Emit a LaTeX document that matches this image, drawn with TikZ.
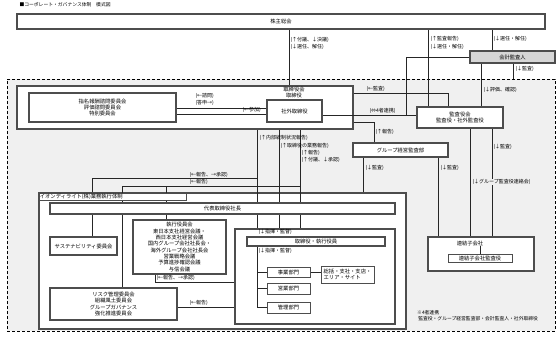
\documentclass[tikz,border=0pt]{standalone}
\usepackage{fontspec}
\setmainfont{Noto Sans CJK JP}
\usetikzlibrary{positioning}
\definecolor{areagray}{HTML}{F0F0F0}
\definecolor{framegray}{HTML}{4D4D4D}
\definecolor{kaikeigray}{HTML}{D6D6D6}
\pgfdeclarelayer{bg}
\pgfdeclarelayer{frames}
\pgfdeclarelayer{links}
\pgfsetlayers{bg,frames,links,main}

\begin{document}
\begin{tikzpicture}[
  x=1pt, y=-1pt,
  font=\fontsize{5.3}{6.3}\selectfont,
  wh/.style 2 args={minimum width=#1pt,minimum height=#2pt},
  box/.style={draw=framegray,line width=1.3pt,fill=white,align=center,inner sep=0.5pt},
  subbox/.style={draw=framegray,line width=0.8pt,fill=white,align=center,inner sep=0.5pt},
  area/.style={draw=black,dash pattern=on 3pt off 2pt,line width=0.9pt,fill=areagray},
  link/.style={line width=0.9pt,draw=black!85},
  lbl/.style={anchor=west,inner sep=0.3pt,font=\fontsize{5}{5.8}\selectfont}
]
\useasboundingbox (0,0) rectangle (560,337);

% title
\node[anchor=west,font=\fontsize{4.8}{5.6}\selectfont] (title) at (16,5) {■コーポレート・ガバナンス体制　模式図};

% shareholders and auditor
\node[box,wh={528}{15}] (soukai) at (281,21.5) {株主総会};
\node[box,fill=kaikeigray,wh={85}{12}] (kaikei) at (512.5,57) {会計監査人};

\begin{pgfonlayer}{bg}
\node[area,wh={548}{252}] (area) at (281,205) {};
\end{pgfonlayer}

\begin{pgfonlayer}{frames}
\node[box,wh={336}{43}] (torikai) at (185,107.5) {};
\node[box,wh={367}{136}] (aeon) at (222.5,261) {};
\node[box,wh={160}{95}] (shiki) at (315,276.5) {};
\node[box,wh={106}{34}] (renketsu) at (481,254) {};
\end{pgfonlayer}

% board
\node[box,wh={147}{29}] (iinkai) at (102.5,107.5) {指名報酬諮問委員会\\評価諮問委員会\\特別委員会};
\node[box,wh={55}{22}] (shagai) at (294.5,111) {社外取締役};
\node[align=center,inner sep=0pt] (toriname) at (294,92.5) {取締役会\\取締役};
\node[box,wh={86}{21}] (kansayaku) at (460,117.5) {監査役会\\監査役・社外監査役};
\node[box,wh={95}{14}] (gkansa) at (400.5,150) {グループ経営監査部};

% subsidiaries
\node[inner sep=0.5pt] (renname) at (470,243) {連結子会社};
\node[subbox,wh={64}{8}] (renkansa) at (480,258) {連結子会社監査役};

% execution
\node[subbox,anchor=north west,text width=146pt,minimum height=7pt,align=left,inner sep=0.5pt] (tab) at (39,193) {イオンディライト(株)業務執行体制};
\node[box,wh={345}{11}] (shacho) at (222.5,208.5) {代表取締役社長};
\node[box,wh={67}{18}] (sustain) at (83.5,246) {サステナビリティ委員会};
\node[box,wh={93}{54}] (shikkou) at (179.5,247) {執行役員会\\東日本支社経営会議・\\西日本支社経営会議\\国内グループ会社社長会・\\海外グループ会社社長会\\営業戦略会議\\予算進捗確認会議\\与信会議};
\node[box,wh={127}{32}] (risk) at (113.5,304) {リスク管理委員会\\組織風土委員会\\グループガバナンス\\強化推進委員会};
\node[box,wh={138}{9}] (torishik) at (316,241.5) {取締役・執行役員};
\node[subbox,wh={43}{10}] (jigyo) at (288.5,272) {事業部門};
\node[subbox,wh={43}{11}] (eigyo) at (288.5,288.5) {営業部門};
\node[subbox,wh={43}{11}] (kanri) at (288.5,307.5) {管理部門};
\node[subbox,wh={53}{17},align=left] (sokatsu) at (347.5,274.5) {総括・支社・支店・\\エリア・サイト};

% note
\node[anchor=north west,align=left,inner sep=0pt,font=\fontsize{4.8}{6}\selectfont] (note) at (417,310) {※4者連携\\\ 監査役・グループ経営監査部・会計監査人・社外取締役};

% line positions
\coordinate (xTori) at (289,0);
\coordinate (xKansa) at (428,0);
\coordinate (xKaikei) at (492,0);
\coordinate (xHyoka) at (481,0);
\coordinate (xAudit) at (513,0);
\coordinate (xKansaT) at (448,0);
\coordinate (xHokoku) at (374,0);
\coordinate (xGA) at (363,0);
\coordinate (xGB) at (438,0);
\coordinate (xRenA) at (470,0);
\coordinate (xRenB) at (492,0);
\coordinate (xNaibu) at (257,0);
\coordinate (xGyomu) at (279,0);
\coordinate (xFuki) at (300,0);
\coordinate (xSus) at (92,0);
\coordinate (xRisk) at (122,0);
\coordinate (xShik) at (166,0);
\coordinate (xShikL) at (155,0);
\coordinate (yKansa) at (0,93);
\coordinate (yHokoku) at (0,122);
\coordinate (yShimon) at (0,108);
\coordinate (ySanka) at (0,114);
\coordinate (yYon) at (0,115);
\coordinate (yShikL) at (0,282);
\coordinate (yRisk) at (0,307);
\coordinate (yonkei) at (406,115);
\coordinate (hoshoA) at (257,178);
\coordinate (hoshoB) at (300,186);

\begin{pgfonlayer}{links}
\draw[link] (soukai.south -| xTori) -- (torikai.north -| xTori);
\draw[link] (soukai.south -| xKansa) -- (kansayaku.north -| xKansa);
\draw[link] (soukai.south -| xKaikei) -- (kaikei.north -| xKaikei);
\draw[link] (kaikei.west) -| (yonkei);
\draw[link] (kaikei.south -| xHyoka) -- (kansayaku.north -| xHyoka);
\draw[link] (kaikei.south -| xAudit) -- (area.north -| xAudit);
\draw[link] (torikai.east |- yKansa) -| (kansayaku.north -| xKansaT);
\draw[link] (torikai.east |- yHokoku) -| (gkansa.north -| xHokoku);
\draw[link] (shagai.east |- yYon) -- (kansayaku.west |- yYon);
\draw[link] (iinkai.east |- yShimon) -- (shagai.west |- yShimon);
\draw[link] (iinkai.east |- ySanka) -- (shagai.west |- ySanka);
\draw[link] (gkansa.south -| xGA) -- (aeon.north -| xGA);
\draw[link] (gkansa.south -| xGB) -- (renketsu.north -| xGB);
\draw[link] (kansayaku.south -| xRenA) -- (renketsu.north -| xRenA);
\draw[link] (kansayaku.south -| xRenB) -- (renketsu.north -| xRenB);
\draw[link] (renname.south -| renkansa.north) -- (renkansa.north);
% board to execution
\draw[link] (torikai.south -| xNaibu) -- (shacho.north -| xNaibu);
\draw[link] (torikai.south -| xGyomu) -- (shacho.north -| xGyomu);
\draw[link] (torikai.south -| xFuki) -- (shacho.north -| xFuki);
\draw[link] (shacho.south -| xNaibu) -- (shiki.north -| xNaibu);
\draw[link] (shacho.south -| xGyomu) -- (shiki.north -| xGyomu);
\draw[link] (shacho.south -| xFuki) -- (shiki.north -| xFuki);
\draw[link] (aeon.north -| xSus) |- (hoshoA);
\draw[link] (risk.north -| xRisk) |- (hoshoB);
\draw[link] (shacho.north -| xShik) -- (xShik |- hoshoB);
\draw[link] (shacho.south -| xSus) -- (sustain.north -| xSus);
\draw[link] (shacho.south -| xShik) -- (shikkou.north -| xShik);
\draw[link] (shikkou.south -| xShikL) |- (shiki.west |- yShikL);
\draw[link] (risk.east |- yRisk) -- (shiki.west |- yRisk);
% departments
\draw[link] (torishik.south -| xNaibu) |- (kanri.west);
\draw[link] (jigyo.west -| xNaibu) -- (jigyo.west);
\draw[link] (eigyo.west -| xNaibu) -- (eigyo.west);
\draw[link] (jigyo.east) -- (sokatsu.west |- jigyo.east);
\end{pgfonlayer}

% labels
\node[lbl] (lbFuki) at (290,40) {(↑付議、↓決議)};
\node[lbl] (lbSennin) at (290,47) {(↓選任、解任)};
\node[lbl] (lbKansaHokoku) at (430,39) {(↑監査報告)};
\node[lbl] (lbSennin2) at (430,47) {(↓選任・解任)};
\node[lbl] (lbSennin3) at (493,39) {(↓選任・解任)};
\node[lbl] (lbAudit) at (515,69) {(↓監査)};
\node[lbl] (lbHyoka) at (483,90) {(↓評価、確認)};
\node[lbl] (lbKansa) at (366,89) {(←監査)};
\node[lbl] (lbYon) at (369,111) {(⇔4者連携)};
\node[lbl] (lbHokoku) at (375,132) {(↑報告)};
\node[lbl] (lbShimon) at (195,96) {(←諮問)};
\node[lbl] (lbToshin) at (195,103) {(答申→)};
\node[lbl] (lbSanka) at (242,110) {(←参加)};
\node[lbl] (lbNaibu) at (259,138) {(↑内部統制状況報告)};
\node[lbl] (lbGyomu) at (280,146) {(↑取締役の業務報告)};
\node[lbl] (lbHokoku2) at (301,153) {(↑報告)};
\node[lbl] (lbFuki2) at (301,160) {(↑付議、↓承認)};
\node[lbl] (lbGA) at (365,168) {(↓監査)};
\node[lbl] (lbGB) at (440,168) {(↓監査)};
\node[lbl] (lbRenB) at (493,147) {(↓監査)};
\node[lbl,fill=areagray] (lbRenA) at (472,182) {(↓グループ監査役連絡会)};
\node[lbl] (lbHoshoA) at (189,175) {(←報告、→承認)};
\node[lbl] (lbHoshoB) at (189,182) {(←報告)};
\node[lbl] (lbShiki1) at (258,232) {(↓指揮・監督)};
\node[lbl] (lbShiki2) at (258,251) {(↓指揮・監督)};
\node[lbl] (lbShikL) at (156,278) {(←報告、→承認)};
\node[lbl] (lbRisk) at (189,303) {(←報告)};
\end{tikzpicture}
\end{document}
